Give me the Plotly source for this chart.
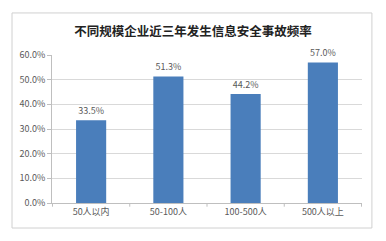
import plotly.graph_objects as go

categories = ["50人以内", "50-100人", "100-500人", "500人以上"]
values = [33.5, 51.3, 44.2, 57.0]
y_ticks = [0, 10, 20, 30, 40, 50, 60]
y_tick_labels = ["0.0%", "10.0%", "20.0%", "30.0%", "40.0%", "50.0%", "60.0%"]
title = "不同规模企业近三年发生信息安全事故频率"

font_family = "Noto Sans CJK SC, Noto Sans, sans-serif"

fig = go.Figure()
fig.add_trace(go.Bar(
    x=categories,
    y=values,
    marker=dict(color="#4a7ebb", line=dict(width=0)),
    text=[f"{v:.1f}%" for v in values],
    textposition="outside",
    textfont=dict(size=9, color="#595959"),
    cliponaxis=False,
    width=0.39,
))

fig.update_layout(
    width=386, height=241,
    margin=dict(l=52, r=24, t=55, b=38),
    paper_bgcolor="white",
    plot_bgcolor="white",
    font=dict(family=font_family, color="#595959", size=9),
    showlegend=False,
    title=dict(text="<b>" + title + "</b>", x=0.5, xanchor="center", y=0.87, yanchor="middle",
               font=dict(size=12.5, color="#222222", family=font_family)),
    xaxis=dict(
        showline=True, linecolor="#bfbfbf", linewidth=1,
        ticks="", tickfont=dict(size=9, color="#595959"),
        showgrid=False,
    ),
    yaxis=dict(
        range=[0, 60], tickvals=y_ticks, ticktext=y_tick_labels,
        showgrid=True, gridcolor="#d9d9d9", gridwidth=1,
        showline=True, linecolor="#bfbfbf", linewidth=1,
        ticks="outside", ticklen=4, tickcolor="#bfbfbf",
        tickfont=dict(size=9, color="#595959"),
        zeroline=False,
    ),
    shapes=[dict(type="rect", xref="paper", yref="paper",
                 x0=-0.129, x1=1.032, y0=-0.169, y1=1.284,
                 line=dict(color="#d0d0d0", width=1), fillcolor="rgba(0,0,0,0)", layer="below")],
)

# tick marks between categories on x axis
for i in range(len(categories) + 1):
    fig.add_shape(type="line", xref="x", yref="paper", x0=i - 0.5, x1=i - 0.5, y0=0, y1=-0.025,
                  line=dict(color="#bfbfbf", width=1))

fig.write_html("out.html")
